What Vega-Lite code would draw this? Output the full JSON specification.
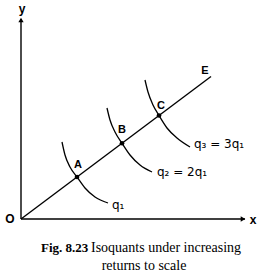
{
  "$schema": "https://vega.github.io/schema/vega-lite/v6.json",
  "width": 264,
  "height": 279,
  "autosize": "none",
  "padding": 0,
  "background": "white",
  "config": {"view": {"stroke": null}},
  "datasets": {
    "axes": [
      {"line": "y", "x": 0, "y": 0, "o": 0},
      {"line": "y", "x": 0, "y": 200, "o": 1},
      {"line": "x", "x": 0, "y": 0, "o": 0},
      {"line": "x", "x": 224, "y": 0, "o": 1}
    ],
    "arrows": [
      {"x": 0, "y": 199, "shape": "triangle-up"},
      {"x": 222, "y": 0, "shape": "triangle-right"}
    ],
    "ray": [
      {"x": 0, "y": 0, "o": 0},
      {"x": 190, "y": 142.5, "o": 1}
    ],
    "curves": [
      {"c": "q1", "o": 0, "x": 41, "y": 77},
      {"c": "q1", "o": 1, "x": 44, "y": 64},
      {"c": "q1", "o": 2, "x": 49, "y": 52},
      {"c": "q1", "o": 3, "x": 56, "y": 42},
      {"c": "q1", "o": 4, "x": 64, "y": 31},
      {"c": "q1", "o": 5, "x": 74, "y": 22},
      {"c": "q1", "o": 6, "x": 87, "y": 16},
      {"c": "q2", "o": 0, "x": 86, "y": 111},
      {"c": "q2", "o": 1, "x": 89, "y": 99},
      {"c": "q2", "o": 2, "x": 94, "y": 87},
      {"c": "q2", "o": 3, "x": 101, "y": 75.75},
      {"c": "q2", "o": 4, "x": 109, "y": 64},
      {"c": "q2", "o": 5, "x": 119, "y": 54},
      {"c": "q2", "o": 6, "x": 131, "y": 47},
      {"c": "q3", "o": 0, "x": 124, "y": 139},
      {"c": "q3", "o": 1, "x": 127, "y": 127},
      {"c": "q3", "o": 2, "x": 132, "y": 114},
      {"c": "q3", "o": 3, "x": 138, "y": 103.5},
      {"c": "q3", "o": 4, "x": 146, "y": 91},
      {"c": "q3", "o": 5, "x": 156, "y": 81},
      {"c": "q3", "o": 6, "x": 169, "y": 72}
    ],
    "dots": [
      {"x": 56, "y": 42},
      {"x": 101, "y": 75.75},
      {"x": 138, "y": 103.5}
    ],
    "letters": [
      {"x": 57, "y": 54, "t": "A"},
      {"x": 101, "y": 89, "t": "B"},
      {"x": 140, "y": 113, "t": "C"},
      {"x": 184, "y": 148, "t": "E"}
    ],
    "qlabels": [
      {"x": 91, "y": 14, "t": "q₁"},
      {"x": 136, "y": 47, "t": "q₂ = 2q₁"},
      {"x": 173, "y": 75, "t": "q₃ = 3q₁"}
    ],
    "axislabels": [
      {"x": 1, "y": 210, "t": "y"},
      {"x": -11, "y": 0, "t": "O"},
      {"x": 232, "y": -1, "t": "x"}
    ],
    "capbold": [
      {"x": 20, "y": -29, "t": "Fig. 8.23"}
    ],
    "capline1": [
      {"x": 70, "y": -29, "t": "Isoquants under increasing"}
    ],
    "capline2": [
      {"x": 123, "y": -47, "t": "returns to scale"}
    ]
  },
  "encoding": {
    "x": {"field": "x", "type": "quantitative", "scale": {"domain": [-21, 243], "nice": false, "zero": false}, "axis": null},
    "y": {"field": "y", "type": "quantitative", "scale": {"domain": [-60, 219], "nice": false, "zero": false}, "axis": null}
  },
  "layer": [
    {
      "data": {"name": "axes"},
      "mark": {"type": "line", "color": "black", "strokeWidth": 1.4},
      "encoding": {"detail": {"field": "line"}, "order": {"field": "o"}}
    },
    {
      "data": {"name": "arrows"},
      "mark": {"type": "point", "filled": true, "color": "black", "size": 28, "opacity": 1},
      "encoding": {"shape": {"field": "shape", "type": "nominal", "scale": null}}
    },
    {
      "data": {"name": "ray"},
      "mark": {"type": "line", "color": "black", "strokeWidth": 1.4},
      "encoding": {"order": {"field": "o"}}
    },
    {
      "data": {"name": "curves"},
      "mark": {"type": "line", "color": "black", "strokeWidth": 1.3, "interpolate": "monotone"},
      "encoding": {"detail": {"field": "c"}, "order": {"field": "o"}}
    },
    {
      "data": {"name": "dots"},
      "mark": {"type": "circle", "color": "black", "size": 22, "opacity": 1}
    },
    {
      "data": {"name": "letters"},
      "mark": {"type": "text", "font": "Liberation Sans", "fontSize": 11, "fontWeight": "bold", "align": "center", "baseline": "middle", "color": "black"},
      "encoding": {"text": {"field": "t"}}
    },
    {
      "data": {"name": "qlabels"},
      "mark": {"type": "text", "font": "DejaVu Sans", "fontSize": 12, "align": "left", "baseline": "middle", "color": "black"},
      "encoding": {"text": {"field": "t"}}
    },
    {
      "data": {"name": "axislabels"},
      "mark": {"type": "text", "font": "Liberation Sans", "fontSize": 12, "fontWeight": "bold", "align": "center", "baseline": "middle", "color": "black"},
      "encoding": {"text": {"field": "t"}}
    },
    {
      "data": {"name": "capbold"},
      "mark": {"type": "text", "font": "Liberation Serif", "fontSize": 13, "fontWeight": "bold", "align": "left", "baseline": "middle", "color": "black"},
      "encoding": {"text": {"field": "t"}}
    },
    {
      "data": {"name": "capline1"},
      "mark": {"type": "text", "font": "Liberation Serif", "fontSize": 14, "align": "left", "baseline": "middle", "color": "black"},
      "encoding": {"text": {"field": "t"}}
    },
    {
      "data": {"name": "capline2"},
      "mark": {"type": "text", "font": "Liberation Serif", "fontSize": 14, "align": "center", "baseline": "middle", "color": "black"},
      "encoding": {"text": {"field": "t"}}
    }
  ]
}
